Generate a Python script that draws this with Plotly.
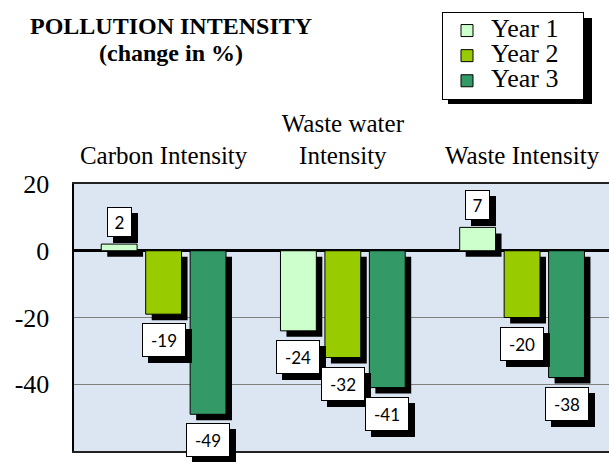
import plotly.graph_objects as go

# ---- data ----
categories = ["Carbon Intensity", "Waste water<br>Intensity", "Waste Intensity"]
series_names = ["Year 1", "Year 2", "Year 3"]
year1 = [2, -24, 7]
year2 = [-19, -32, -20]
year3 = [-49, -41, -38]
series_values = [year1, year2, year3]
series_colors = ["#CCFFCC", "#99CC00", "#339966"]
y_ticks = [20, 0, -20, -40, -60]

# ---- layout constants ----
W, H = 609, 462
ML, MR, MT, MB = 74, 0, 184, 11
PW, PH = W - ML - MR, H - MT - MB
x_range = [-0.5, 2.485]
y_range = [-60, 20]
px_per_cat = PW / (x_range[1] - x_range[0])
px_per_unit = PH / (y_range[1] - y_range[0])
bar_w = 0.2
slot = 0.248
sh_px = 6
sh_dx = sh_px / px_per_cat
sh_dy = sh_px / px_per_unit


def px_x(p):
    return (p - ML) / PW


def px_y(p):
    return (MT + PH - p) / PH


fig = go.Figure()

# shadows first
for k, vals in enumerate(series_values):
    off = (k - 1) * slot - bar_w / 2
    fig.add_trace(go.Bar(
        x=categories, y=vals, base=-sh_dy, width=bar_w, offset=off + sh_dx,
        marker=dict(color="black", line=dict(width=0)),
        showlegend=False, hoverinfo="skip"))

for k, vals in enumerate(series_values):
    off = (k - 1) * slot - bar_w / 2
    fig.add_trace(go.Bar(
        x=categories, y=vals, width=bar_w, offset=off,
        name='<span style="font-size:26px">' + series_names[k] + "\u00a0" * 3 + '</span>',
        marker=dict(color=series_colors[k], line=dict(color="black", width=1))))

# value labels with shadow boxes
label_font = dict(family="Lato, Carlito, sans-serif", size=17, color="black")
for layer in (0, 1):
    for k, vals in enumerate(series_values):
        for i, v in enumerate(vals):
            txt = str(v)
            tw = 34 if len(txt) > 1 else 15
            th = 24 if v < 0 else 20
            ys = -9 if v < 0 else 7
            ann = dict(
                x=i + (k - 1) * slot, y=v, xref="x", yref="y",
                text=txt, showarrow=False,
                yanchor="top" if v < 0 else "bottom", xanchor="center",
                width=tw, height=th, borderpad=4, borderwidth=1,
                font=label_font,
            )
            if layer == 0:
                ann.update(xshift=sh_px, yshift=ys - sh_px, bgcolor="black",
                           bordercolor="black", font=dict(label_font, color="black"))
            else:
                ann.update(yshift=ys, bgcolor="white", bordercolor="black")
            fig.add_annotation(**ann)

# title
title_font = dict(family="Liberation Serif, Times New Roman, serif", size=24, color="black")
fig.add_annotation(x=px_x(171), y=px_y(26), xref="paper", yref="paper",
                   text="<b>POLLUTION INTENSITY</b>", showarrow=False,
                   xanchor="center", yanchor="middle", font=title_font)
fig.add_annotation(x=px_x(171), y=px_y(53), xref="paper", yref="paper",
                   text="<b>(change in %)</b>", showarrow=False,
                   xanchor="center", yanchor="middle", font=title_font)

# legend shadow
fig.add_shape(type="rect", xref="paper", yref="paper",
              x0=px_x(448), x1=px_x(592), y0=px_y(104), y1=px_y(18),
              fillcolor="black", line=dict(width=0), layer="above")

serif = "Liberation Serif, Times New Roman, serif"
fig.update_layout(
    width=W, height=H,
    margin=dict(l=ML, r=MR, t=MT, b=MB, pad=0, autoexpand=False),
    paper_bgcolor="white", plot_bgcolor="#DCE6F2",
    barmode="overlay", hovermode=False,
    font=dict(family=serif, color="black"),
    legend=dict(x=px_x(442), y=px_y(12), xanchor="left", yanchor="top",
                bgcolor="white", bordercolor="black", borderwidth=1,
                font=dict(family=serif, size=17, color="black"),
                tracegroupgap=0, itemwidth=38),
    xaxis=dict(type="category", range=x_range, side="top",
               showgrid=False, zeroline=False,
               showline=True, mirror=True, linecolor="#222222", linewidth=2,
               ticks="", ticklabelstandoff=8,
               tickfont=dict(family=serif, size=25, color="black"),
               fixedrange=True, automargin=False),
    yaxis=dict(range=y_range, tickvals=y_ticks, ticktext=[str(t) for t in y_ticks],
               showgrid=True, gridcolor="#7F7F7F", gridwidth=1,
               zeroline=True, zerolinecolor="black", zerolinewidth=3,
               showline=True, linecolor="black", linewidth=2.5,
               ticks="", ticklabelstandoff=17,
               tickfont=dict(family=serif, size=26, color="black"),
               fixedrange=True, automargin=False),
    showlegend=True,
)

fig.write_html("out.html", config={"staticPlot": True, "displayModeBar": False},
               post_script="document.body.style.margin='0';document.body.style.overflow='hidden';")
